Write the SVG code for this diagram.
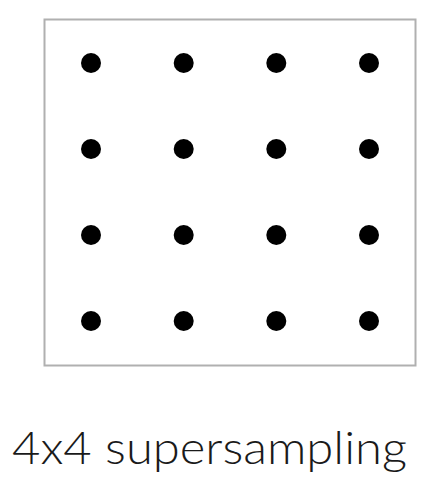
<svg xmlns="http://www.w3.org/2000/svg" width="447" height="489" viewBox="0 0 447 489">
<style>
.box{fill:#fff;stroke:#b0b0b0;stroke-width:2}
.dot{fill:#000}
.lbl{font-family:"Lato","Open Sans","Liberation Sans",sans-serif;font-weight:300;font-size:45px;fill:#1a1a1a}
</style>
<rect width="447" height="489" fill="#fff"/>
<g id="frame"><rect class="box" x="44.5" y="19.5" width="371" height="346"/></g>
<g id="samples">
<circle class="dot" cx="91" cy="63" r="10"/><circle class="dot" cx="183.7" cy="63" r="10"/><circle class="dot" cx="276.3" cy="63" r="10"/><circle class="dot" cx="369" cy="63" r="10"/>
<circle class="dot" cx="91" cy="149" r="10"/><circle class="dot" cx="183.7" cy="149" r="10"/><circle class="dot" cx="276.3" cy="149" r="10"/><circle class="dot" cx="369" cy="149" r="10"/>
<circle class="dot" cx="91" cy="235" r="10"/><circle class="dot" cx="183.7" cy="235" r="10"/><circle class="dot" cx="276.3" cy="235" r="10"/><circle class="dot" cx="369" cy="235" r="10"/>
<circle class="dot" cx="91" cy="321" r="10"/><circle class="dot" cx="183.7" cy="321" r="10"/><circle class="dot" cx="276.3" cy="321" r="10"/><circle class="dot" cx="369" cy="321" r="10"/>
</g>
<g id="label"><text class="lbl" x="12" y="464" textLength="395" lengthAdjust="spacingAndGlyphs">4x4 supersampling</text></g>
</svg>
